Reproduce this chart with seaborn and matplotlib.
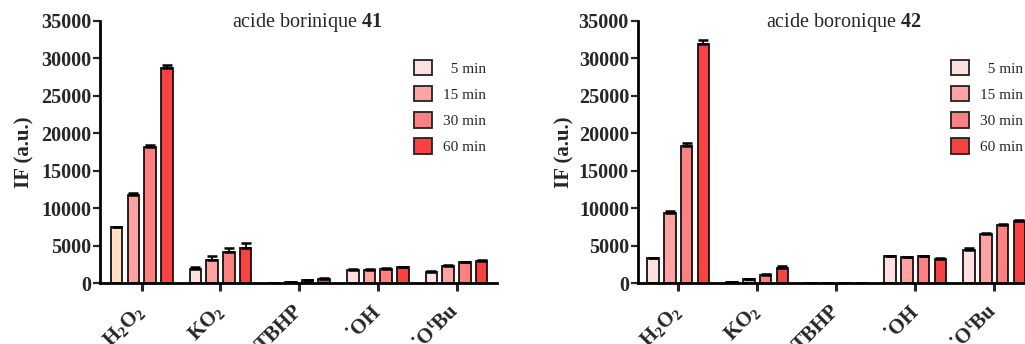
import matplotlib
matplotlib.use("Agg")
import matplotlib.pyplot as plt
from matplotlib.patches import Patch
import numpy as np
import pandas as pd
import seaborn as sns

# categories / series
oxydants = ["H$_\\mathbf{2}$O$_\\mathbf{2}$", "KO$_\\mathbf{2}$", "TBHP", "\u02d9OH", "\u02d9O$^\\mathbf{t}$Bu"]
temps = ["5 min", "15 min", "30 min", "60 min"]

# acide borinique 41 : one list per time, values per oxydant
b41_5 = [7500, 1900, 50, 1850, 1530]
b41_15 = [11750, 3150, 200, 1850, 2300]
b41_30 = [18200, 4150, 400, 1950, 2800]
b41_60 = [28750, 4750, 650, 2150, 3050]
b41_err_5 = [60, 300, 20, 80, 80]
b41_err_15 = [250, 450, 30, 80, 100]
b41_err_30 = [300, 530, 40, 80, 100]
b41_err_60 = [350, 700, 50, 80, 120]

# acide boronique 42
b42_5 = [3330, 150, 30, 3640, 4480]
b42_15 = [9450, 560, 40, 3510, 6610]
b42_30 = [18370, 1130, 50, 3600, 7850]
b42_60 = [31950, 2100, 100, 3290, 8330]
b42_err_5 = [130, 40, 10, 80, 300]
b42_err_15 = [270, 60, 10, 60, 180]
b42_err_30 = [300, 80, 10, 80, 100]
b42_err_60 = [530, 220, 20, 70, 80]

palette = ["#FFE0E0", "#FFA2A2", "#FF8080", "#F94343"]
peach = "#FFE0C2"

sns.set_style("ticks")
plt.rcParams["font.family"] = ["Liberation Serif", "DejaVu Serif"]
plt.rcParams["mathtext.fontset"] = "custom"
plt.rcParams["mathtext.rm"] = "Liberation Serif:bold"
plt.rcParams["mathtext.bf"] = "Liberation Serif:bold"
plt.rcParams["mathtext.it"] = "Liberation Serif:bold"


def make_df(series):
    rows = []
    for t, vals in zip(temps, series):
        for ox, v in zip(oxydants, vals):
            rows.append({"oxydant": ox, "temps": t, "IF": v})
    return pd.DataFrame(rows)


def draw_panel(ax, series, errors, title_txt, number, xlim, leg_x, first_peach=False):
    df = make_df(series)
    sns.barplot(data=df, x="oxydant", y="IF", hue="temps", hue_order=temps,
                palette=palette, saturation=1, width=0.85, gap=0.31,
                edgecolor="#111111", linewidth=1.3, errorbar=None,
                legend=False, ax=ax)
    if first_peach:
        ax.containers[0].patches[0].set_facecolor(peach)
    for cont, err in zip(ax.containers, errors):
        xs = [p.get_x() + p.get_width() / 2 for p in cont.patches]
        hs = [p.get_height() for p in cont.patches]
        ax.errorbar(xs, hs, yerr=[np.zeros(len(err)), err], fmt="none",
                    ecolor="black", elinewidth=1.3, capsize=3.5, capthick=1.8, zorder=1)

    ax.set_xlim(*xlim)
    ax.set_ylim(0, 35000)
    ax.set_yticks(range(0, 35001, 5000))
    sns.despine(ax=ax)
    for s in ["left", "bottom"]:
        ax.spines[s].set_linewidth(2.0)
        ax.spines[s].set_color("black")
    ax.tick_params(axis="y", length=5, width=1.6, pad=1.5, labelsize=14.5)
    ax.tick_params(axis="x", length=6, width=2.2, pad=12, labelsize=15)
    for lab in ax.get_yticklabels():
        lab.set_fontweight("bold")
    ax.set_xticks(range(len(oxydants)))
    ax.set_xticklabels(oxydants, rotation=45, ha="right", va="center",
                       rotation_mode="anchor", fontweight="bold")
    ax.set_xlabel("")
    ax.set_ylabel("IF (a.u.)", fontsize=15, fontweight="bold")
    ax.yaxis.set_label_coords(-0.165, 0.5)

    ax.text(2.1, 34800, title_txt + " $\\mathbf{" + number + "}$", ha="center",
            va="center", fontsize=14.5)

    handles = [Patch(facecolor=c, edgecolor="#222222", linewidth=1.3) for c in palette]
    labels = ["  " + t if len(t) < 6 else t for t in temps]
    ax.legend(handles, labels, loc="upper left", bbox_to_anchor=(leg_x, 0.853),
              frameon=False, fontsize=11, handlelength=1.2, handleheight=1.2,
              handletextpad=0.7, labelspacing=0.67, borderpad=0, borderaxespad=0)


fig = plt.figure(figsize=(10.25, 3.44), dpi=100)
ax1 = fig.add_axes([0.0976, 0.176, 0.387, 0.763])
ax2 = fig.add_axes([0.6224, 0.176, 0.3776, 0.763])

draw_panel(ax1, [b41_5, b41_15, b41_30, b41_60],
           [b41_err_5, b41_err_15, b41_err_30, b41_err_60],
           "acide borinique", "41", (-0.53, 4.51), 0.7915, first_peach=True)
draw_panel(ax2, [b42_5, b42_15, b42_30, b42_60],
           [b42_err_5, b42_err_15, b42_err_30, b42_err_60],
           "acide boronique", "42", (-0.51, 4.39), 0.809)

fig.savefig("out.png", dpi=100)
